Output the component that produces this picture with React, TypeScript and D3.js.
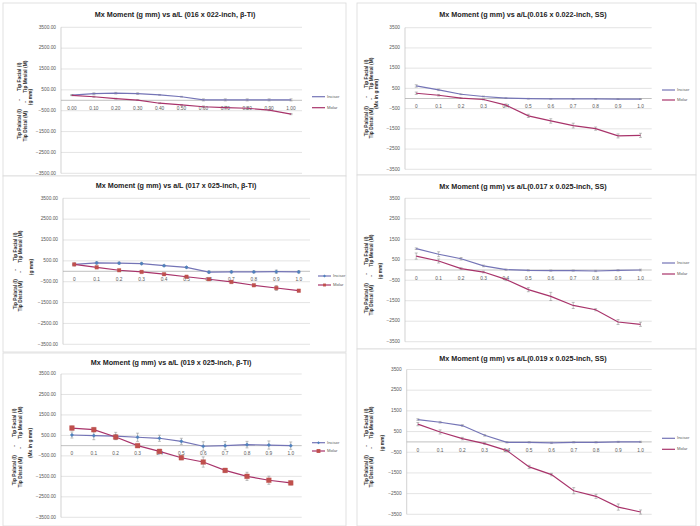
import React from 'react';
import * as d3 from 'd3';

// ---------- data ----------
const X_LABELS_2DP = ['0.00', '0.10', '0.20', '0.30', '0.40', '0.50', '0.60', '0.70', '0.80', '0.90', '1.00'];
const X_LABELS = ['0', '0.1', '0.2', '0.3', '0.4', '0.5', '0.6', '0.7', '0.8', '0.9', '1.0'];
const Y_TICKS = [3500, 2500, 1500, 500, -500, -1500, -2500, -3500];
const SERIES_NAMES = ['Incisor', 'Molar'];

const TITLE_016_BTI = 'Mx Moment (g mm) vs a/L (016 x 022-inch, \u03b2-Ti)';
const TITLE_016_SS = 'Mx Moment (g mm) vs a/L(0.016 x 0.022-inch, SS)';
const TITLE_017_BTI = 'Mx Moment (g mm) vs a/L (017 x 025-inch, \u03b2-Ti)';
const TITLE_017_SS = 'Mx Moment (g mm) vs a/L(0.017 x 0.025-inch, SS)';
const TITLE_019_BTI = 'Mx Moment (g mm) vs a/L (019 x 025-inch, \u03b2-Ti)';
const TITLE_019_SS = 'Mx Moment (g mm) vs a/L(0.019 x 0.025-inch, SS)';

const INCISOR_016_BTI = [250, 320, 340, 320, 260, 170, 20, 20, 20, 20, 20];
const INCISOR_016_BTI_ERR = [20, 40, 40, 40, 20, 20, 50, 50, 50, 50, 50];
const MOLAR_016_BTI = [240, 170, 80, 10, -140, -220, -310, -350, -380, -470, -660];
const MOLAR_016_BTI_ERR = [20, 30, 20, 20, 20, 20, 40, 60, 60, 30, 30];

const INCISOR_016_SS = [620, 430, 210, 100, 20, -10, -20, -20, -20, -30, -30];
const INCISOR_016_SS_ERR = [60, 40, 20, 20, 20, 20, 20, 20, 20, 20, 20];
const MOLAR_016_SS = [260, 160, 20, -50, -330, -860, -1110, -1340, -1490, -1850, -1820];
const MOLAR_016_SS_ERR = [60, 40, 20, 20, 60, 80, 110, 120, 80, 100, 100];

const INCISOR_017_BTI = [330, 400, 390, 370, 270, 190, -40, -30, -30, -20, -30];
const INCISOR_017_BTI_ERR = [40, 60, 50, 50, 40, 40, 60, 50, 50, 80, 60];
const MOLAR_017_BTI = [330, 190, 50, -30, -140, -260, -380, -510, -670, -800, -930];
const MOLAR_017_BTI_ERR = [60, 60, 40, 40, 40, 60, 60, 60, 60, 120, 60];

const INCISOR_017_SS = [1040, 770, 550, 200, 20, -20, -30, -30, -50, -20, 0];
const INCISOR_017_SS_ERR = [40, 120, 60, 40, 30, 30, 30, 30, 30, 30, 40];
const MOLAR_017_SS = [680, 440, 70, -100, -460, -960, -1290, -1730, -1940, -2540, -2650];
const MOLAR_017_SS_ERR = [150, 100, 40, 40, 60, 100, 200, 150, 50, 120, 100];

const INCISOR_019_BTI = [520, 490, 470, 410, 360, 210, -30, 0, 50, 30, 0];
const INCISOR_019_BTI_ERR = [150, 200, 180, 200, 150, 150, 220, 200, 160, 200, 180];
const MOLAR_019_BTI = [860, 780, 420, 0, -280, -590, -800, -1210, -1500, -1690, -1820];
const MOLAR_019_BTI_ERR = [100, 100, 120, 60, 100, 100, 250, 100, 200, 200, 100];

const INCISOR_019_SS = [1080, 950, 790, 320, -20, -20, -50, -20, -20, 0, 0];
const INCISOR_019_SS_ERR = [40, 40, 40, 40, 30, 30, 30, 30, 30, 30, 30];
const MOLAR_019_SS = [860, 480, 160, -80, -420, -1210, -1580, -2360, -2630, -3150, -3390];
const MOLAR_019_SS_ERR = [80, 100, 60, 40, 60, 80, 60, 150, 100, 150, 100];

const YT_LINE1 = 'Tip Palatal (I)\u00a0\u00a0\u00a0\u00a0\u00a0\u00a0-\u00a0\u00a0\u00a0\u00a0\u00a0\u00a0Tip Facial (I)';
const YT_LINE2 = 'Tip Distal (M)\u00a0\u00a0\u00a0\u00a0\u00a0\u00a0-\u00a0\u00a0\u00a0\u00a0\u00a0\u00a0Tip Mesial (M)';
const YT_UNIT_A = '(g mm)';
const YT_UNIT_B = '(Mx in g mm)';

// ---------- layout ----------
type Panel = {
  title: string;
  xLabels: string[];
  decimals: number;
  incisor: number[];
  incisorErr: number[];
  molar: number[];
  molarErr: number[];
  markers: [number, number]; // diamond side, square side (0 = none)
  frame: [number, number, number, number];
  plot: [number, number, number, number]; // left, right, top(3500), bottom(-3500)
  titleX: number;
  titleY: number;
  yTitleX: [number, number, number];
  yTitleCY: number;
  unit: string;
  legendX: number;
  legendY: [number, number];
};

const PANELS: Panel[] = [
  {
    title: TITLE_016_BTI, xLabels: X_LABELS_2DP, decimals: 2,
    incisor: INCISOR_016_BTI, incisorErr: INCISOR_016_BTI_ERR, molar: MOLAR_016_BTI, molarErr: MOLAR_016_BTI_ERR,
    markers: [0, 0], frame: [3, 3, 346, 176], plot: [61, 302, 27.3, 173.3], titleX: 175, titleY: 15.5,
    yTitleX: [20, 25.5, 31], yTitleCY: 101, unit: YT_UNIT_A, legendX: 312, legendY: [96.7, 107.7],
  },
  {
    title: TITLE_016_SS, xLabels: X_LABELS, decimals: 0,
    incisor: INCISOR_016_SS, incisorErr: INCISOR_016_SS_ERR, molar: MOLAR_016_SS, molarErr: MOLAR_016_SS_ERR,
    markers: [0, 0], frame: [357, 3, 696, 175], plot: [405, 651.7, 27.7, 169.3], titleX: 523, titleY: 15,
    yTitleX: [366.7, 371.7, 376.7], yTitleCY: 98, unit: YT_UNIT_B, legendX: 662, legendY: [90, 100],
  },
  {
    title: TITLE_017_BTI, xLabels: X_LABELS, decimals: 2,
    incisor: INCISOR_017_BTI, incisorErr: INCISOR_017_BTI_ERR, molar: MOLAR_017_BTI, molarErr: MOLAR_017_BTI_ERR,
    markers: [2.6, 3.6], frame: [3, 176, 346, 352], plot: [63, 310, 198.3, 344.3], titleX: 176, titleY: 186,
    yTitleX: [15.7, 21, 31.7], yTitleCY: 271, unit: YT_UNIT_A, legendX: 318, legendY: [276, 285],
  },
  {
    title: TITLE_017_SS, xLabels: X_LABELS, decimals: 0,
    incisor: INCISOR_017_SS, incisorErr: INCISOR_017_SS_ERR, molar: MOLAR_017_SS, molarErr: MOLAR_017_SS_ERR,
    markers: [0, 0], frame: [357, 175, 696, 349], plot: [405, 651.7, 198.3, 341.7], titleX: 523, titleY: 187,
    yTitleX: [366.7, 371.7, 381], yTitleCY: 275, unit: YT_UNIT_A, legendX: 662, legendY: [263, 274],
  },
  {
    title: TITLE_019_BTI, xLabels: X_LABELS, decimals: 2,
    incisor: INCISOR_019_BTI, incisorErr: INCISOR_019_BTI_ERR, molar: MOLAR_019_BTI, molarErr: MOLAR_019_BTI_ERR,
    markers: [2.6, 4.8], frame: [3, 353, 346, 526], plot: [61, 301.7, 374, 517.3], titleX: 171, titleY: 363.5,
    yTitleX: [15, 20.5, 30.7], yTitleCY: 447, unit: YT_UNIT_B, legendX: 312, legendY: [442.7, 451],
  },
  {
    title: TITLE_019_SS, xLabels: X_LABELS, decimals: 0,
    incisor: INCISOR_019_SS, incisorErr: INCISOR_019_SS_ERR, molar: MOLAR_019_SS, molarErr: MOLAR_019_SS_ERR,
    markers: [0, 0], frame: [357, 349, 696, 526], plot: [406.7, 651.7, 369.5, 514.3], titleX: 523, titleY: 359,
    yTitleX: [366.7, 372, 383], yTitleCY: 447, unit: YT_UNIT_A, legendX: 662, legendY: [438.3, 449.3],
  },
];

const INCISOR_LINE = '#7474B6';
const MOLAR_LINE = '#A8336A';
const INCISOR_MARK = '#4F81BD';
const MOLAR_MARK = '#C0504D';
const FONT = '"Liberation Sans", Arial, sans-serif';

function ChartPanel({ p }: { p: Panel }) {
  const [left, right, top, bottom] = p.plot;
  const x = d3.scaleBand<string>().domain(p.xLabels).range([left, right]);
  const y = d3.scaleLinear().domain([-3500, 3500]).range([bottom, top]);
  const cx = (i: number) => (x(p.xLabels[i]) as number) + x.bandwidth() / 2;
  const line = d3.line<number>().x((_, i) => cx(i)).y((d) => y(d));
  const fmt = d3.format(`.${p.decimals}f`);
  const zero = y(0);
  const [fx0, fy0, fx1, fy1] = p.frame;
  const [dSide, sSide] = p.markers;
  const hasMarkers = dSide > 0;
  const diamond = d3.symbol().type(d3.symbolSquare).size(dSide * dSide)();
  const square = d3.symbol().type(d3.symbolSquare).size(sSide * sSide)();

  const series = [
    { name: SERIES_NAMES[0], vals: p.incisor, err: p.incisorErr, color: INCISOR_LINE, mark: INCISOR_MARK, sym: diamond, rot: 45 },
    { name: SERIES_NAMES[1], vals: p.molar, err: p.molarErr, color: MOLAR_LINE, mark: MOLAR_MARK, sym: square, rot: 0 },
  ];

  return (
    <g>
      <rect x={fx0} y={fy0} width={fx1 - fx0} height={fy1 - fy0} fill="#fff" stroke="#D9D9D9" strokeWidth={0.8} />
      <text x={p.titleX} y={p.titleY} textAnchor="middle" dominantBaseline="middle" fontSize={7.2} fontWeight={600} fill="#222" fontFamily={FONT}>
        {p.title}
      </text>
      {Y_TICKS.map((t) => (
        <g key={t}>
          <line x1={left} x2={right} y1={y(t)} y2={y(t)} stroke="#D9D9D9" strokeWidth={0.7} />
          <text x={left - 5} y={y(t)} textAnchor="end" dominantBaseline="middle" fontSize={4.8} fill="#595959" fontFamily={FONT}>
            {fmt(t)}
          </text>
        </g>
      ))}
      <line x1={left} x2={left} y1={top} y2={bottom} stroke="#BFBFBF" strokeWidth={0.7} />
      <line x1={left} x2={right} y1={zero} y2={zero} stroke="#A6A6A6" strokeWidth={0.7} />
      {p.xLabels.map((l, i) => (
        <text key={l} x={cx(i)} y={zero + 8.5} textAnchor="middle" dominantBaseline="middle" fontSize={4.8} fill="#595959" fontFamily={FONT}>
          {l}
        </text>
      ))}
      <g transform={`translate(${p.yTitleX[0]},${p.yTitleCY}) rotate(-90)`}>
        <text textAnchor="middle" dominantBaseline="middle" fontSize={4.9} fontWeight={700} fill="#333" fontFamily={FONT}>{YT_LINE1}</text>
      </g>
      <g transform={`translate(${p.yTitleX[1]},${p.yTitleCY}) rotate(-90)`}>
        <text textAnchor="middle" dominantBaseline="middle" fontSize={4.9} fontWeight={700} fill="#333" fontFamily={FONT}>{YT_LINE2}</text>
      </g>
      <g transform={`translate(${p.yTitleX[2]},${p.yTitleCY - 4}) rotate(-90)`}>
        <text textAnchor="middle" dominantBaseline="middle" fontSize={4.9} fontWeight={700} fill="#333" fontFamily={FONT}>{p.unit}</text>
      </g>
      {series.map((s) => (
        <g key={s.name}>
          {s.vals.map((v, i) => (
            <g key={i} stroke="#808080" strokeWidth={0.5}>
              <line x1={cx(i)} x2={cx(i)} y1={y(v - s.err[i])} y2={y(v + s.err[i])} />
              <line x1={cx(i) - 1.5} x2={cx(i) + 1.5} y1={y(v - s.err[i])} y2={y(v - s.err[i])} />
              <line x1={cx(i) - 1.5} x2={cx(i) + 1.5} y1={y(v + s.err[i])} y2={y(v + s.err[i])} />
            </g>
          ))}
          <path d={line(s.vals) as string} fill="none" stroke={s.color} strokeWidth={1.2} />
          {hasMarkers &&
            s.vals.map((v, i) => (
              <path key={i} d={s.sym as string} transform={`translate(${cx(i)},${y(v)}) rotate(${s.rot})`} fill={s.mark} stroke={s.mark} strokeWidth={0.3} />
            ))}
        </g>
      ))}
      {series.map((s, k) => (
        <g key={s.name}>
          <line x1={p.legendX} x2={p.legendX + 13} y1={p.legendY[k]} y2={p.legendY[k]} stroke={s.color} strokeWidth={1.2} />
          {hasMarkers && (
            <path d={s.sym as string} transform={`translate(${p.legendX + 6.5},${p.legendY[k]}) rotate(${s.rot}) scale(0.8)`} fill={s.mark} />
          )}
          <text x={p.legendX + 15} y={p.legendY[k]} dominantBaseline="middle" fontSize={4.2} fill="#595959" fontFamily={FONT}>
            {s.name}
          </text>
        </g>
      ))}
    </g>
  );
}

export default function App() {
  return (
    <svg width={700} height={526} viewBox="0 0 700 526" style={{ position: 'absolute', left: 0, top: 0, background: '#fff' }}>
      <rect width={700} height={526} fill="#fff" />
      {PANELS.map((p, i) => (
        <ChartPanel key={i} p={p} />
      ))}
    </svg>
  );
}
